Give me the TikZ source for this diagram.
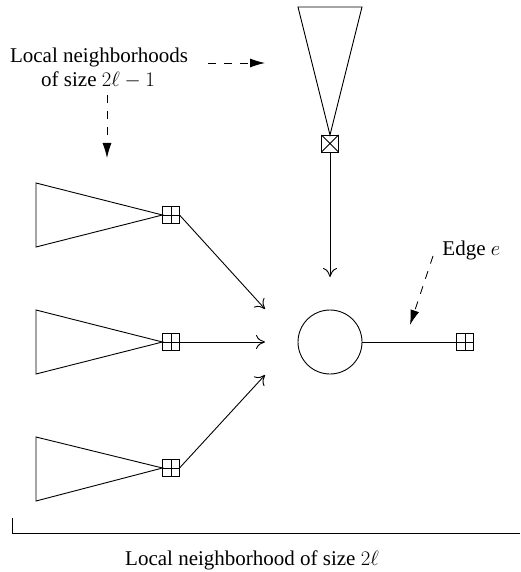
\documentclass[tikz,border=0pt]{standalone}
\usepackage{fontspec}
\setmainfont{Liberation Serif}
\usetikzlibrary{arrows.meta}
\begin{document}
\begin{tikzpicture}[x=1pt,y=-1pt, line width=0.9pt,
  sq/.style={draw, minimum size=17pt, inner sep=0pt, outer sep=0pt, line width=0.9pt},
  gridsq/.style={sq, path picture={\draw (path picture bounding box.north) -- (path picture bounding box.south) (path picture bounding box.west) -- (path picture bounding box.east);}},
  crosssq/.style={sq, path picture={\draw (path picture bounding box.north west) -- (path picture bounding box.south east) (path picture bounding box.north east) -- (path picture bounding box.south west);}},
  arr/.style={-{To[length=9pt,width=14pt]}},
  darr/.style={dash pattern=on 8pt off 8pt, -{Latex[length=15pt,width=9pt]}},
  lbl/.style={font=\fontsize{21}{25}\selectfont, inner sep=0pt}]
\useasboundingbox (0,0) rectangle (520,572);

% top subtree
\node[crosssq] (tsq) at (330,143.5) {};
\coordinate (ta) at (298,7);
\coordinate (tb) at (362,7);
\draw (ta) -- (tb) -- (tsq.north) -- cycle;

% left subtrees
\node[gridsq] (s1) at (171,215) {};
\node[gridsq] (s2) at (171,342) {};
\node[gridsq] (s3) at (171,468) {};
\coordinate (a1) at (36,183); \coordinate (b1) at (36,247);
\coordinate (a2) at (36,310); \coordinate (b2) at (36,374);
\coordinate (a3) at (36,437); \coordinate (b3) at (36,501);
\draw (a1) -- (s1.west) -- (b1) -- cycle;
\draw (a2) -- (s2.west) -- (b2) -- cycle;
\draw (a3) -- (s3.west) -- (b3) -- cycle;

% root
\node[draw, circle, minimum size=64pt, inner sep=0pt] (c) at (330,342) {};
\node[gridsq] (rsq) at (465,342) {};
\draw (c.east) -- (rsq.west);

% arrows toward root
\coordinate (e0) at (330,277);
\coordinate (e1) at (265,309);
\coordinate (e2) at (265,342);
\coordinate (e3) at (265,375);
\draw[arr] (tsq.south) -- (e0);
\draw[arr] (s1.east) -- (e1);
\draw[arr] (s2.east) -- (e2);
\draw[arr] (s3.east) -- (e3);

% labels
\node[lbl, anchor=base] (l1) at (99,63) {Local neighborhoods};
\node[lbl, anchor=base] (l2) at (98,87) {of size $2\ell-1$};
\coordinate (d1s) at (208,63); \coordinate (d1e) at (265,63);
\coordinate (d2s) at (107,95); \coordinate (d2e) at (107,158);
\draw[darr] (d1s) -- (d1e);
\draw[darr] (d2s) -- (d2e);

\node[lbl, anchor=base west] (le) at (442,255) {Edge $e$};
\coordinate (d3s) at (433,256); \coordinate (d3e) at (410,325);
\draw[darr] (d3s) -- (d3e);

\coordinate (br1) at (12,518); \coordinate (br2) at (12,533); \coordinate (br3) at (520,533);
\draw (br1) -- (br2) -- (br3);
\node[lbl, anchor=base] (lb) at (252,565) {Local neighborhood of size $2\ell$};
\end{tikzpicture}
\end{document}
